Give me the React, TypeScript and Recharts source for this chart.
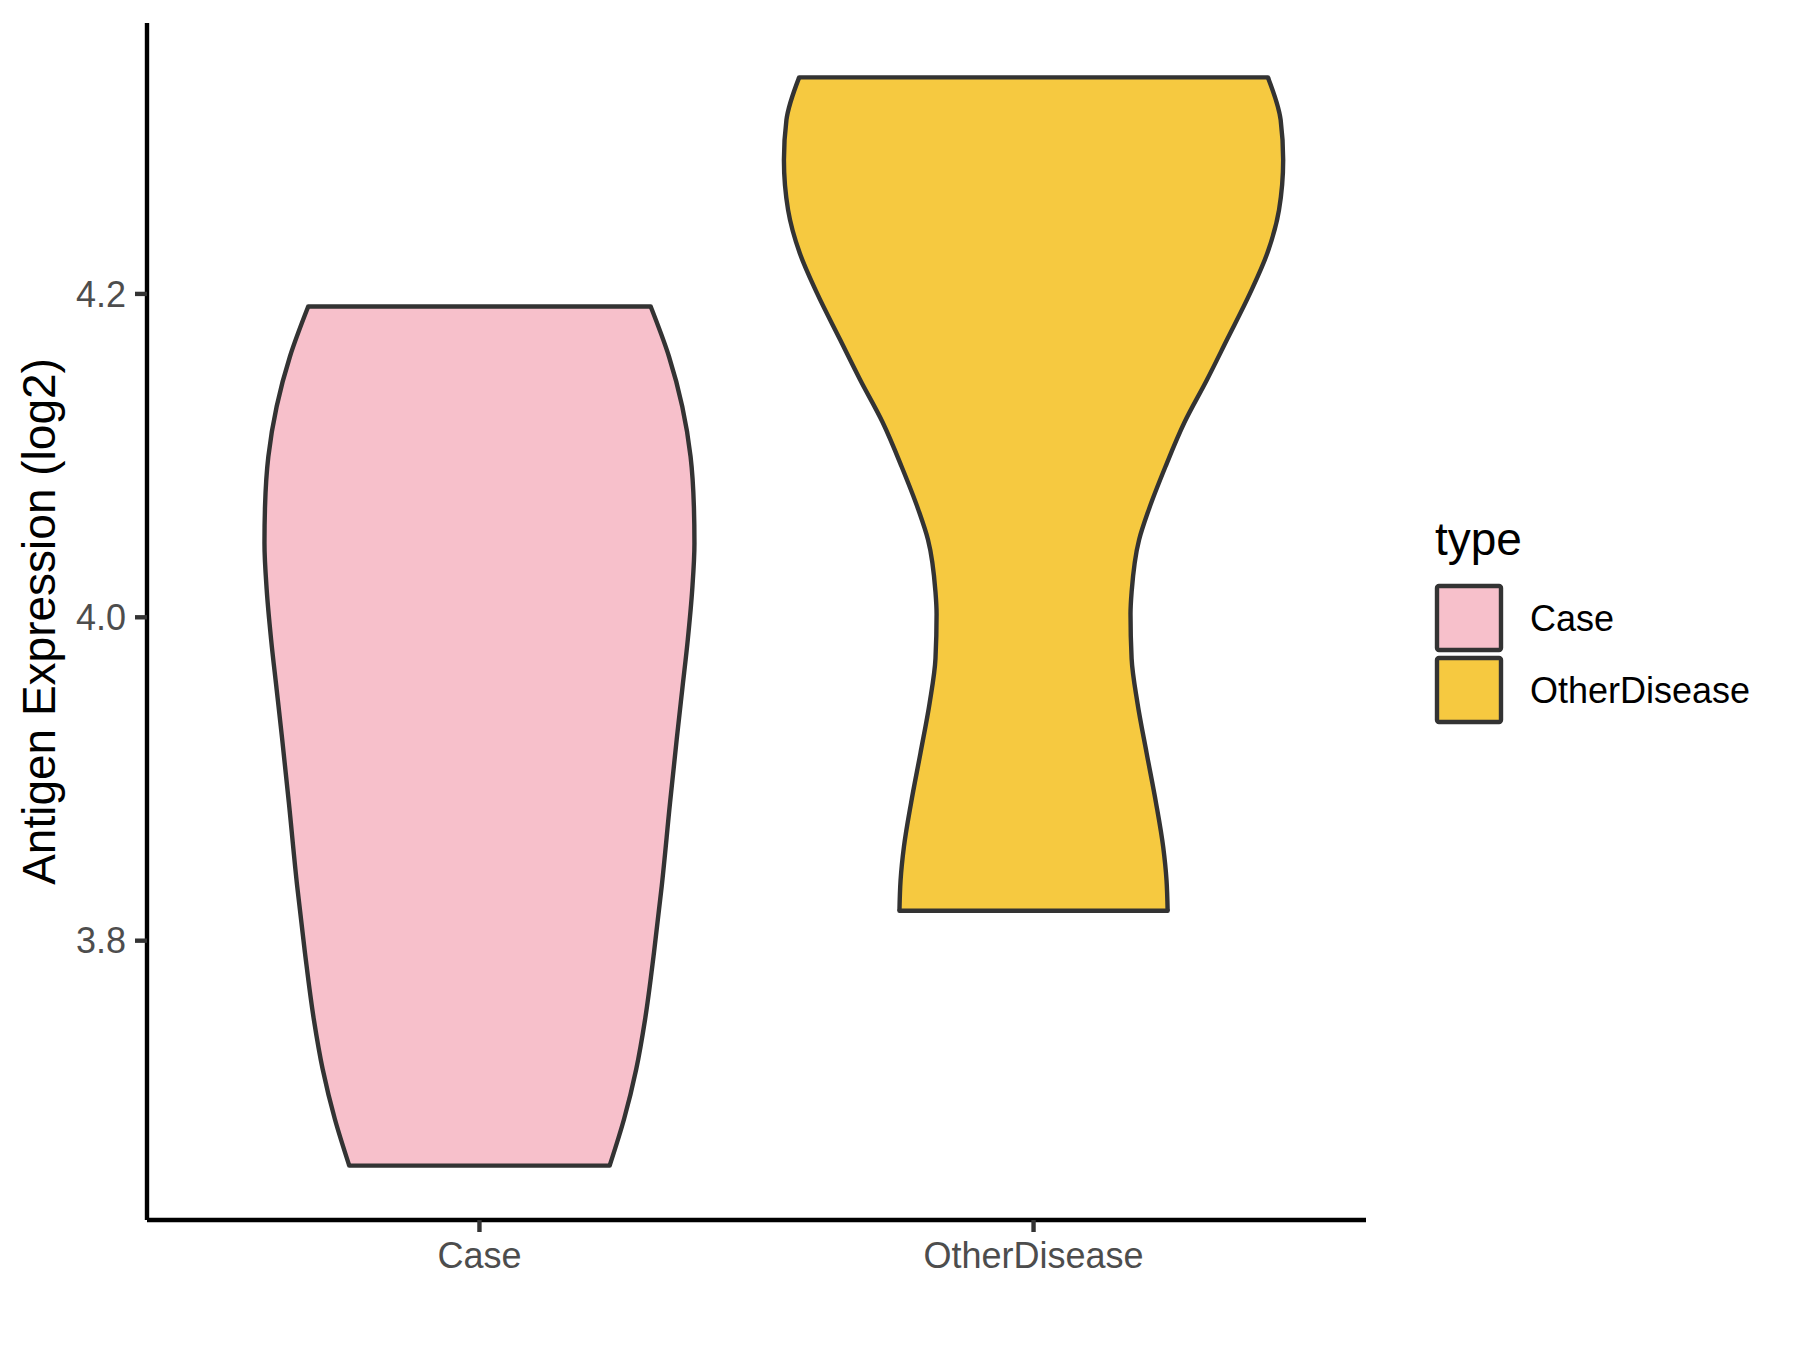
import React from "react";
import {
  ComposedChart,
  Area,
  XAxis,
  YAxis,
  ReferenceLine,
  Legend,
  Label,
} from "recharts";

// groups on the x axis (positions 1 and 2)
const categories = ["Case", "OtherDisease"];
const fills = ["#F7C0CB", "#F6C940"];

// violin outlines: expression value and half width (in x units) at that value
const caseY = [
  4.1922, 4.1613, 4.1304, 4.0995, 4.0686, 4.046, 4.0171, 3.9862, 3.9554,
  3.9245, 3.8854, 3.8338, 3.7927, 3.7515, 3.7206, 3.6897, 3.6609,
];
const caseHalfWidth = [
  0.309, 0.342, 0.366, 0.381, 0.387, 0.388, 0.384, 0.376, 0.366, 0.356,
  0.344, 0.329, 0.315, 0.299, 0.283, 0.261, 0.235,
];

const otherY = [
  4.3339, 4.3075, 4.2828, 4.2519, 4.2253, 4.2006, 4.1716, 4.1469, 4.1203,
  4.0931, 4.0666, 4.048, 4.0157, 4.002, 3.9745, 3.9471, 3.9162, 3.8853,
  3.8579, 3.8373, 3.8185,
];
const otherHalfWidth = [
  0.423, 0.446, 0.4505, 0.443, 0.422, 0.391, 0.349, 0.313, 0.272, 0.238,
  0.208, 0.1905, 0.177, 0.175, 0.177, 0.1875, 0.204, 0.221, 0.234, 0.24,
  0.242,
];

const yTicks = [3.8, 4.0, 4.2];
const xTicks = [1, 2];

const INK = "#333333";
const TICK_TEXT = "#4D4D4D";
const FONT = "'Liberation Sans', Arial, sans-serif";
const LINE_W = 4.4;

type Row = { y: number; span: [number, number] };

function violinRows(ys: number[], half: number[], pos: number): Row[] {
  return ys.map((y, i) => ({ y, span: [pos - half[i], pos + half[i]] }));
}

const violins = [
  { name: categories[0], fill: fills[0], rows: violinRows(caseY, caseHalfWidth, 1) },
  { name: categories[1], fill: fills[1], rows: violinRows(otherY, otherHalfWidth, 2) },
];

// ggplot-style 5% expansion of the value axis
const allY = [...caseY, ...otherY];
const yMin = Math.min(...allY);
const yMax = Math.max(...allY);
const yPad = (yMax - yMin) * 0.05;
const yDomain: [number, number] = [yMin - yPad, yMax + yPad];

function YTitle(props: any) {
  const vb = props.viewBox || { y: 0, height: 0 };
  const cy = vb.y + vb.height / 2;
  const x = 55;
  return (
    <text
      x={x}
      y={cy}
      transform={`rotate(-90 ${x} ${cy})`}
      textAnchor="middle"
      fontSize={46}
      fill="#000000"
      fontFamily={FONT}
    >
      Antigen Expression (log2)
    </text>
  );
}

function LegendBox() {
  return (
    <svg width={360} height={220} style={{ display: "block", overflow: "visible" }}>
      <text x={0} y={35} fontSize={46} fill="#000000" fontFamily={FONT}>
        type
      </text>
      {categories.map((c, i) => (
        <g key={c}>
          <rect
            x={2}
            y={66 + i * 72}
            width={64}
            height={64}
            rx={2}
            fill={fills[i]}
            stroke={INK}
            strokeWidth={LINE_W}
          />
          <text
            x={95}
            y={98 + i * 72}
            dy="0.35em"
            fontSize={36}
            fill="#000000"
            fontFamily={FONT}
          >
            {c}
          </text>
        </g>
      ))}
    </svg>
  );
}

export default function App() {
  return (
    <div
      style={{
        position: "absolute",
        left: 0,
        top: 0,
        width: 1800,
        height: 1350,
        background: "#FFFFFF",
        fontFamily: FONT,
      }}
    >
      <ComposedChart
        width={1800}
        height={1350}
        layout="vertical"
        margin={{ top: 23, right: 434, left: 0, bottom: 0 }}
      >
        <XAxis
          type="number"
          domain={[0.4, 2.6]}
          ticks={xTicks}
          allowDataOverflow
          tickFormatter={(v: number) => categories[v - 1] ?? ""}
          height={130}
          tickSize={12}
          tickMargin={10}
          tick={{ fill: TICK_TEXT, fontSize: 36, fontFamily: FONT }}
          tickLine={{ stroke: INK, strokeWidth: LINE_W }}
          axisLine={{ stroke: "#000000", strokeWidth: LINE_W }}
        />
        <YAxis
          type="number"
          dataKey="y"
          domain={yDomain}
          ticks={yTicks}
          allowDataOverflow
          reversed
          tickFormatter={(v: number) => v.toFixed(1)}
          width={147}
          tickSize={12}
          tickMargin={9}
          tick={{ fill: TICK_TEXT, fontSize: 36, fontFamily: FONT }}
          tickLine={{ stroke: INK, strokeWidth: LINE_W }}
          axisLine={{ stroke: "#000000", strokeWidth: LINE_W }}
        >
          <Label content={YTitle} />
        </YAxis>

        {violins.map((v) => (
          <Area
            key={v.name}
            name={v.name}
            data={v.rows}
            dataKey="span"
            type="monotone"
            fill={v.fill}
            fillOpacity={1}
            stroke={INK}
            strokeWidth={LINE_W}
            isAnimationActive={false}
            activeDot={false}
            dot={false}
          />
        ))}

        {/* flat ends of each violin */}
        {violins.flatMap((v) => {
          const first = v.rows[0];
          const last = v.rows[v.rows.length - 1];
          return [first, last].map((r, j) => (
            <ReferenceLine
              key={`${v.name}-${j}`}
              segment={[
                { x: r.span[0], y: r.y },
                { x: r.span[1], y: r.y },
              ]}
              stroke={INK}
              strokeWidth={LINE_W}
              strokeLinecap="round"
              ifOverflow="visible"
            />
          ));
        })}

        <Legend
          layout="vertical"
          align="center"
          verticalAlign="middle"
          wrapperStyle={{ left: 1435, top: 520, width: 360 }}
          content={() => <LegendBox />}
        />
      </ComposedChart>
    </div>
  );
}
